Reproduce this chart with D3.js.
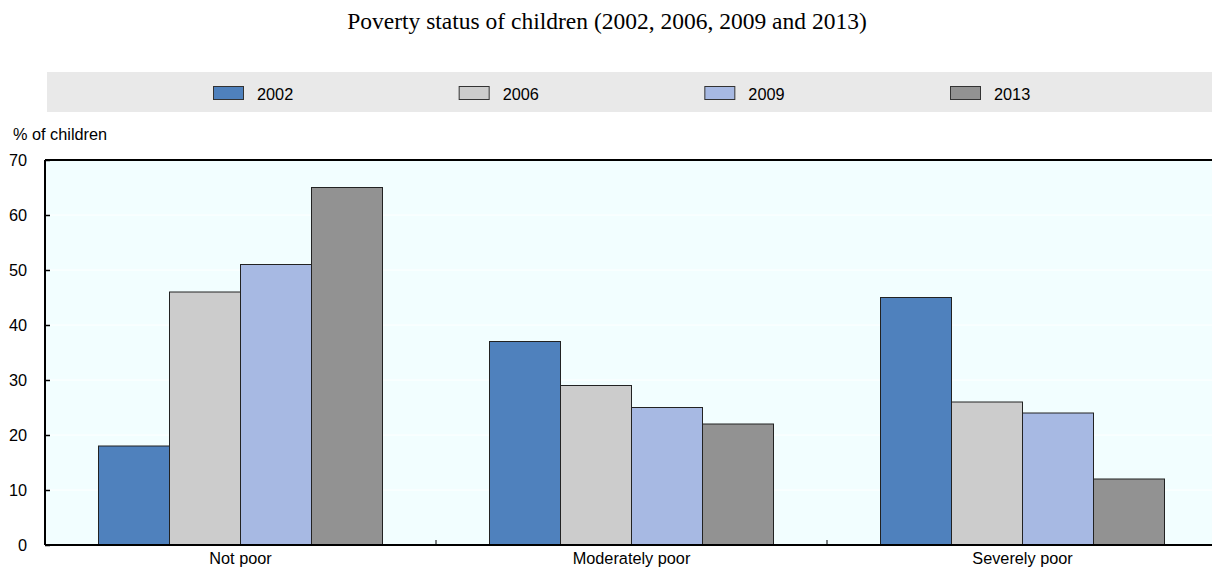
<!DOCTYPE html>
<html>
<head>
<meta charset="utf-8">
<script src="https://cdn.jsdelivr.net/npm/d3@7"></script>
<style>
  html, body { margin: 0; padding: 0; background: #ffffff; }
  svg { display: block; }
</style>
</head>
<body>
<div id="chart"></div>
<script>
const categories = ["Not poor", "Moderately poor", "Severely poor"];
const seriesNames = ["2002", "2006", "2009", "2013"];
const values2002 = [18, 37, 45];
const values2006 = [46, 29, 26];
const values2009 = [51, 25, 24];
const values2013 = [65, 22, 12];
const yTicks = [0, 10, 20, 30, 40, 50, 60, 70];
const colors = ["#4F81BD", "#CCCCCC", "#A7B9E3", "#929292"];

const seriesValues = [values2002, values2006, values2009, values2013];

const W = 1212, H = 574;
const margin = { left: 45, top: 160, right: -6, bottom: 29 };
const plotW = W - margin.left - margin.right;
const plotH = H - margin.top - margin.bottom;
const SANS = "'Liberation Sans', Arial, sans-serif";
const FS = 16.3;

const svg = d3.select("#chart").append("svg").attr("width", W).attr("height", H);

// Title
svg.append("text")
  .attr("x", 607).attr("y", 29)
  .attr("text-anchor", "middle")
  .attr("font-family", "'Liberation Serif', 'Times New Roman', serif")
  .attr("font-size", 23.5)
  .attr("fill", "#000")
  .text("Poverty status of children (2002, 2006, 2009 and 2013)");

// Legend
svg.append("rect").attr("x", 47).attr("y", 72).attr("width", W - 47).attr("height", 40).attr("fill", "#E9E9E9");
const legendX = d3.scalePoint().domain(seriesNames).range([213, 950]);
const lg = svg.selectAll("g.leg").data(seriesNames).enter().append("g").attr("class", "leg")
  .attr("transform", d => `translate(${legendX(d)},86)`);
lg.append("rect").attr("x", 0.5).attr("y", 0.5).attr("width", 30).attr("height", 13)
  .attr("fill", (d, i) => colors[i]).attr("stroke", "#333").attr("stroke-width", 1);
lg.append("text").attr("x", 44).attr("y", 13.5)
  .attr("font-family", SANS).attr("font-size", FS)
  .attr("fill", "#000").text(d => d);

// Y axis label
svg.append("text").attr("x", 13).attr("y", 140)
  .attr("font-family", SANS).attr("font-size", FS)
  .attr("fill", "#000").text("% of children");

const g = svg.append("g").attr("transform", `translate(${margin.left},${margin.top})`);

const x0 = d3.scaleBand().domain(categories).range([0, plotW]).paddingInner(0).paddingOuter(0);
const groupW = 284;
const x1 = d3.scaleBand().domain(seriesNames).range([0, groupW]).padding(0);
const y = d3.scaleLinear().domain([0, 70]).range([plotH, 0]);

// Plot background
g.append("rect").attr("x", 0).attr("y", 0).attr("width", plotW).attr("height", plotH).attr("fill", "#F2FEFF");

// Gridlines
g.selectAll("line.grid").data(yTicks.filter(t => t > 0 && t < 70)).enter().append("line")
  .attr("x1", 0).attr("x2", plotW).attr("y1", d => y(d)).attr("y2", d => y(d))
  .attr("stroke", "#ffffff").attr("stroke-width", 1);

// Bars
const groups = g.selectAll("g.grp").data(categories).enter().append("g")
  .attr("transform", d => `translate(${x0(d) + (x0.bandwidth() - groupW) / 2},0)`);
groups.selectAll("rect").data((c, ci) => seriesNames.map((s, si) => ({ s, si, v: seriesValues[si][ci] })))
  .enter().append("rect")
  .attr("x", d => x1(d.s)).attr("width", x1.bandwidth())
  .attr("y", d => y(d.v)).attr("height", d => plotH - y(d.v))
  .attr("fill", d => colors[d.si]).attr("stroke", "#222").attr("stroke-width", 1);

// Y axis
const yAxis = d3.axisLeft(y).tickValues(yTicks).tickSize(-5).tickPadding(18);
const ya = g.append("g").call(yAxis);
ya.select(".domain").remove();
ya.selectAll(".tick line").attr("stroke", "#000").attr("stroke-width", 1.5);
ya.selectAll(".tick text").attr("font-family", SANS).attr("font-size", FS).attr("fill", "#000");
g.append("line").attr("x1", 0).attr("x2", 0).attr("y1", 0).attr("y2", plotH).attr("stroke", "#000").attr("stroke-width", 2);
g.append("line").attr("x1", 0).attr("x2", plotW).attr("y1", 0).attr("y2", 0).attr("stroke", "#000").attr("stroke-width", 2);

// X axis
const xAxis = d3.axisBottom(x0).tickSize(0).tickPadding(7);
const xa = g.append("g").attr("transform", `translate(0,${plotH})`).call(xAxis);
xa.select(".domain").remove();
xa.selectAll(".tick text").attr("font-family", SANS).attr("font-size", FS).attr("fill", "#000");
g.append("line").attr("x1", 0).attr("x2", plotW).attr("y1", plotH).attr("y2", plotH).attr("stroke", "#000").attr("stroke-width", 2);
// category separators
g.selectAll("line.sep").data(categories.slice(1)).enter().append("line")
  .attr("x1", d => x0(d)).attr("x2", d => x0(d)).attr("y1", plotH).attr("y2", plotH - 5)
  .attr("stroke", "#000").attr("stroke-width", 1);
</script>
</body>
</html>
